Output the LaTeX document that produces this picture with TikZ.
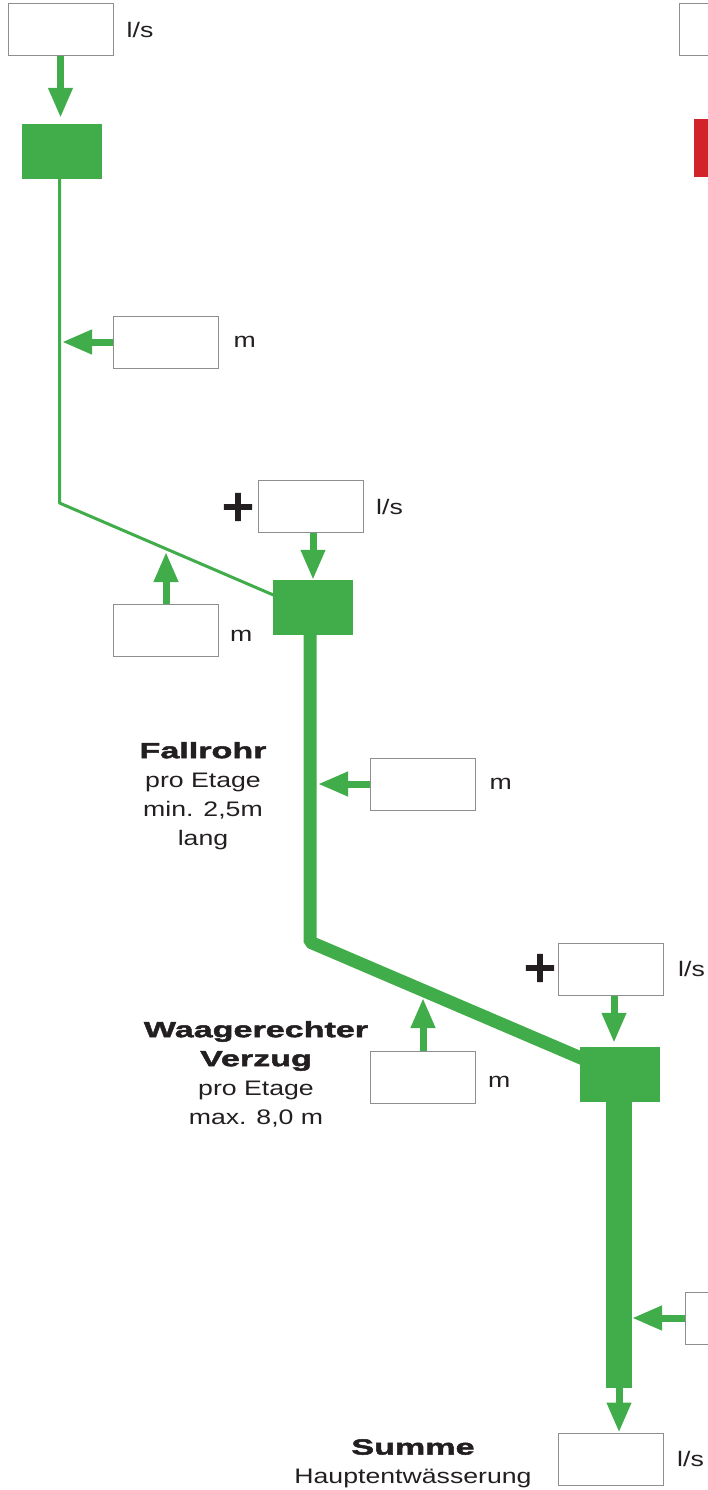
\documentclass[tikz,border=0pt]{standalone}
\usepackage{fontspec}
\setmainfont{Liberation Sans}[FakeStretch=1.27]
\newfontfamily\heavyfont{Liberation Sans}[FakeStretch=1.55,FakeBold=2.2]
\newfontfamily\plusfont{DejaVu Sans}[FakeBold=1.5]
\usepackage{xcolor}
\usepackage{tikz}
\usetikzlibrary{arrows.meta,positioning}
\definecolor{pipegreen}{HTML}{41AD4A}
\definecolor{tapred}{HTML}{D2232A}
\definecolor{boxgray}{HTML}{8E8E8E}
\definecolor{inkblack}{HTML}{231F20}
\newcommand\heavytext[1]{{\heavyfont\bfseries\fontsize{22}{29}\selectfont #1}}

\begin{document}
\begin{tikzpicture}[x=1pt,y=-1pt,
  valbox/.style={draw=boxgray,line width=1pt,fill=white,minimum width=105pt,minimum height=52pt,inner sep=0pt},
  fitbox/.style={fill=pipegreen,minimum width=80pt,minimum height=55pt,inner sep=0pt},
  unit/.style={anchor=west,inner sep=0pt,text=inkblack,font=\fontsize{21}{29}\selectfont},
  note/.style={anchor=north,align=center,inner sep=0pt,text=inkblack,font=\fontsize{21}{29}\selectfont},
  plussign/.style={text=inkblack,inner sep=0pt,font=\plusfont\bfseries\fontsize{44}{44}\selectfont},
  flow/.style={pipegreen,line width=7pt,-{Triangle[width=23pt,length=30pt]}},
  pipe/.style={pipegreen,line join=bevel}]
\useasboundingbox (0,0) rectangle (708,1490);
\clip (0,0) rectangle (708,1490);

\node[valbox] (in1) at (60.5,29.5) {};
\node[unit,right=13pt of in1] (ls1) {l/s};
\node[fitbox] (fit1) at (62,151.5) {};
\coordinate (bend1) at (59.5,503);
\coordinate (join2) at (285,600);
\node[valbox] (len1) at (165.5,342) {};
\node[unit,right=15pt of len1] (m1) {m};
\coordinate (hit1) at (62,342);

\node[plussign] (plus2) at (238,507) {+};
\node[valbox] (in2) at (311,506.5) {};
\node[unit,right=12pt of in2] (ls2) {l/s};
\node[fitbox] (fit2) at (313,607.5) {};
\node[valbox] (len2) at (166,630.5) {};
\node[unit,right=11pt of len2,yshift=-5pt] (m2) {m};
\coordinate (hit2) at (166,552);
\coordinate (bend2) at (310,942);
\coordinate (join3) at (595,1064);
\node[valbox] (len3) at (422.5,784) {};
\node[unit,right=14pt of len3] (m3) {m};
\coordinate (hit3) at (318,784);

\node[plussign] (plus3) at (540,968) {+};
\node[valbox] (in3) at (611,969) {};
\node[unit,right=14pt of in3] (ls3) {l/s};
\node[fitbox] (fit3) at (620,1074.5) {};
\node[valbox] (len4) at (423,1077) {};
\node[unit,right=12pt of len4,yshift=-5pt] (m4) {m};
\coordinate (hit4) at (423,998);
\node[valbox] (len5) at (737.5,1318) {};
\coordinate (hit5) at (632,1318);
\coordinate (drain) at (619,1388);
\node[valbox] (out) at (611,1459) {};
\node[unit,right=13pt of out] (ls4) {l/s};

\node[valbox] (in4) at (731.5,29.5) {};
\node[fill=tapred,minimum width=80pt,minimum height=58pt,inner sep=0pt] (fit4) at (734,148) {};

\draw[pipe,line width=3pt] (fit1.south -| bend1) -- (bend1) -- (join2);
\draw[pipe,line width=13pt] (fit2.south -| bend2) -- (bend2) -- (join3);
\draw[pipe,line width=26pt] (fit3.south -| drain) -- (drain);

\draw[flow,shorten >=6pt] (in1.south) -- (in1.south |- fit1.north);
\draw[flow] (len1.west) -- (hit1);
\draw[flow] ([xshift=2pt]in2.south) -- ([xshift=2pt]in2.south |- fit2.north);
\draw[flow] (len2.north) -- (hit2);
\draw[flow] (len3.west) -- (hit3);
\draw[flow,shorten >=4pt] ([xshift=3pt]in3.south) -- ([xshift=3pt]in3.south |- fit3.north);
\draw[flow] (len4.north) -- (hit4);
\draw[flow] (len5.west) -- (hit5);
\draw[flow] (drain) -- (drain |- out.north);

\node[note] (fallrohr) at (203,742) {\heavytext{Fallrohr}\\pro Etage\\min. 2,5m\\lang};
\node[note] (verzug) at (256,1021) {\heavytext{Waagerechter}\\\heavytext{Verzug}\\pro Etage\\max. 8,0 m};
\node[note] (summe) at (413,1439) {\heavytext{Summe}\\Hauptentwässerung};
\end{tikzpicture}
\end{document}
